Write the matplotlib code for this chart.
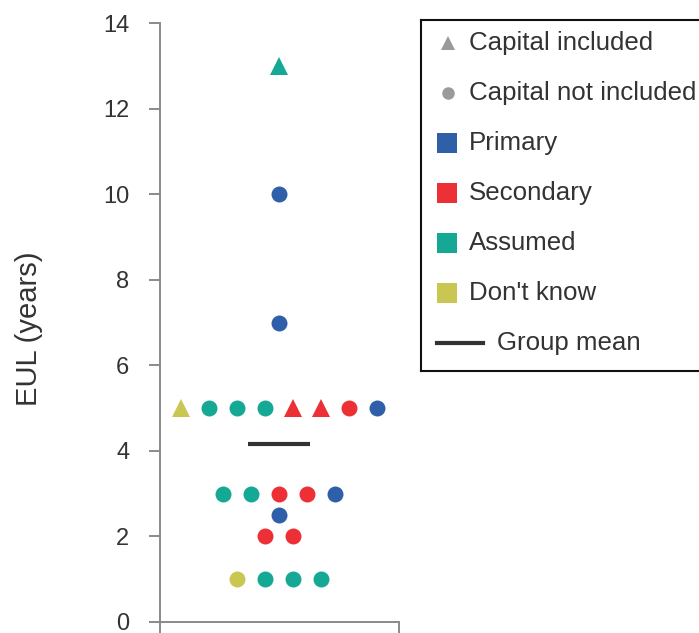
import matplotlib
matplotlib.use("Agg")
import matplotlib.pyplot as plt
import numpy as np
from matplotlib.patches import Rectangle

plt.rcParams["font.family"] = ["Liberation Sans", "DejaVu Sans"]

# data: one entry per study, grouped by EUL row (left to right)
eul_values = [13, 10, 7,
              5, 5, 5, 5, 5, 5, 5, 5,
              3, 3, 3, 3, 3,
              2.5,
              2, 2,
              1, 1, 1, 1]
capital_included = [True, False, False,
                    True, False, False, False, True, True, False, False,
                    False, False, False, False, False,
                    False,
                    False, False,
                    False, False, False, False]
source = ["Assumed", "Primary", "Primary",
          "Don't know", "Assumed", "Assumed", "Assumed", "Secondary", "Secondary", "Secondary", "Primary",
          "Assumed", "Assumed", "Secondary", "Secondary", "Primary",
          "Primary",
          "Secondary", "Secondary",
          "Don't know", "Assumed", "Assumed", "Assumed"]

SOURCE_COLORS = {
    "Primary": "#2F5FA8",
    "Secondary": "#EC3035",
    "Assumed": "#15A894",
    "Don't know": "#C9C752",
}
LEGEND_GREY = "#9A9A9A"
AXIS_GREY = "#8A8A8A"
TEXT = "#333333"

vals = np.array(eul_values, dtype=float)
mean = vals.mean()

# spread points of the same value side by side
xpos = np.zeros(len(vals))
for v in np.unique(vals):
    idx = np.where(vals == v)[0]
    xpos[idx] = np.arange(len(idx)) - (len(idx) - 1) / 2

fig = plt.figure(figsize=(6.99, 6.33), dpi=100)
ax = fig.add_axes([160 / 699, 11 / 633, 239 / 699, 599 / 633])

for x, y, cap, src in zip(xpos, vals, capital_included, source):
    ax.plot(x, y, linestyle="none",
            marker="^" if cap else "o",
            markersize=12.5 if cap else 11.5,
            color=SOURCE_COLORS[src], markeredgewidth=0)

ax.plot([-1.1, 1.1], [mean, mean], color="#333333", lw=3, solid_capstyle="butt")

ax.set_xlim(-4.25, 4.29)
ax.set_ylim(0, 14)
ax.set_yticks(range(0, 15, 2))
ax.set_xticks([-4.25, 4.29])
ax.set_xticklabels(["", ""])
for side in ("top", "right"):
    ax.spines[side].set_visible(False)
for side in ("left", "bottom"):
    ax.spines[side].set_color(AXIS_GREY)
    ax.spines[side].set_linewidth(1.4)
ax.tick_params(axis="both", direction="out", length=8, width=1.4,
               color=AXIS_GREY, labelsize=17, labelcolor=TEXT, pad=14)
ax.set_ylabel("EUL (years)", fontsize=21, color=TEXT)
ax.yaxis.set_label_coords(-0.49, 0.49)

# legend drawn in a pixel-scaled axes so the mean line can be longer
lax = fig.add_axes([421 / 699, (633 - 371) / 633, 320 / 699, 351 / 633])
lax.set_xlim(0, 320)
lax.set_ylim(351, 0)
lax.set_xticks([])
lax.set_yticks([])
lax.patch.set_alpha(0)
for sp in lax.spines.values():
    sp.set_color("#111111")
    sp.set_linewidth(1.5)

legend_labels = ["Capital included", "Capital not included", "Primary",
                 "Secondary", "Assumed", "Don't know", "Group mean"]
row_y = 23 + 50 * np.arange(len(legend_labels))
for i, lab in enumerate(legend_labels):
    y = row_y[i]
    tx = 48
    if lab == "Capital included":
        lax.plot(27, y, marker="^", ms=10, color=LEGEND_GREY, mew=0)
    elif lab == "Capital not included":
        lax.plot(27, y, marker="o", ms=9, color=LEGEND_GREY, mew=0)
    elif lab in SOURCE_COLORS:
        lax.add_patch(Rectangle((16, y - 10), 20, 20,
                                facecolor=SOURCE_COLORS[lab], edgecolor="none"))
    else:
        lax.plot([16, 62], [y, y], color="#333333", lw=3)
        tx = 76
    lax.text(tx, y, lab, fontsize=18.6, color=TEXT, va="center", ha="left")

fig.savefig("out.png", dpi=100)
